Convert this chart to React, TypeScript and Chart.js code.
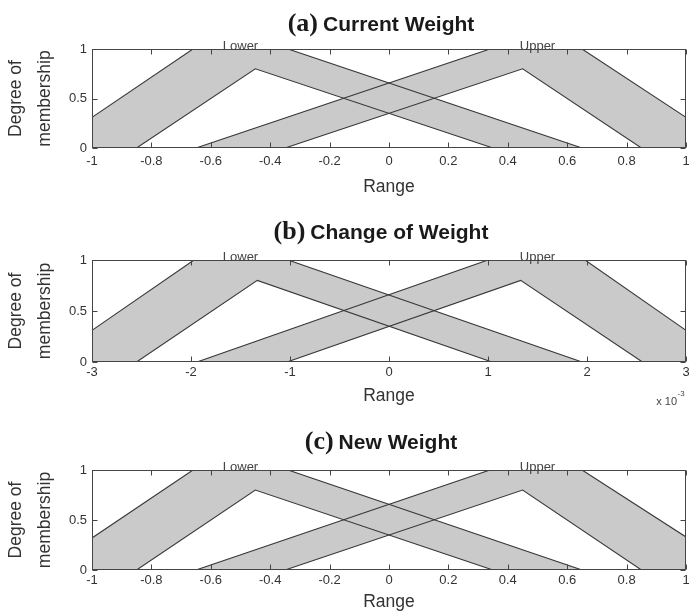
import React, { useEffect, useRef } from 'react';
import { Chart, registerables } from 'chart.js';
Chart.register(...registerables);

Chart.defaults.font.family = '"Liberation Sans", Arial, sans-serif';

const FILL = 'rgb(202,202,202)';
const LINE = '#383838';
const TEXT = '#333333';
const FRAME = '#454545';

// Shared y axis
const yTickValues = [0, 0.5, 1];
const yTickLabels = ['0', '0.5', '1'];
const yTitle = ['Degree of', 'membership'];
const xTitle = 'Range';
const mfNames = ['Lower', 'Upper'];

// (a) Current Weight
const aTag = '(a)';
const aName = 'Current Weight';
const aXTickValues = [-1, -0.8, -0.6, -0.4, -0.2, 0, 0.2, 0.4, 0.6, 0.8, 1];
const aXTickLabels = ['-1', '-0.8', '-0.6', '-0.4', '-0.2', '0', '0.2', '0.4', '0.6', '0.8', '1'];
const aLowerUmfX = [-1, -0.66, -0.34, 0.65, 1];
const aLowerUmfY = [0.31, 1, 1, 0, 0];
const aLowerLmfX = [-1, -0.85, -0.45, 0.35, 1];
const aLowerLmfY = [0, 0, 0.8, 0, 0];
const aUpperUmfX = [-1, -0.65, 0.34, 0.65, 1];
const aUpperUmfY = [0, 0, 1, 1, 0.31];
const aUpperLmfX = [-1, -0.35, 0.45, 0.85, 1];
const aUpperLmfY = [0, 0, 0.8, 0, 0];
const aLabelX = [-0.5, 0.5];

// (b) Change of Weight (x 10^-3)
const bTag = '(b)';
const bName = 'Change of Weight';
const bXTickValues = [-3, -2, -1, 0, 1, 2, 3];
const bXTickLabels = ['-3', '-2', '-1', '0', '1', '2', '3'];
const bLowerUmfX = [-3, -1.97, -1.02, 1.95, 3];
const bLowerUmfY = [0.31, 1, 1, 0, 0];
const bLowerLmfX = [-3, -2.55, -1.33, 1.04, 3];
const bLowerLmfY = [0, 0, 0.8, 0, 0];
const bUpperUmfX = [-3, -1.94, 1.0, 1.98, 3];
const bUpperUmfY = [0, 0, 1, 1, 0.31];
const bUpperLmfX = [-3, -1.03, 1.33, 2.56, 3];
const bUpperLmfY = [0, 0, 0.8, 0, 0];
const bLabelX = [-1.5, 1.5];
const bExponent = ['x 10', '-3'];

// (c) New Weight
const cTag = '(c)';
const cName = 'New Weight';
const cXTickValues = [-1, -0.8, -0.6, -0.4, -0.2, 0, 0.2, 0.4, 0.6, 0.8, 1];
const cXTickLabels = ['-1', '-0.8', '-0.6', '-0.4', '-0.2', '0', '0.2', '0.4', '0.6', '0.8', '1'];
const cLowerUmfX = [-1, -0.66, -0.34, 0.65, 1];
const cLowerUmfY = [0.32, 1, 1, 0, 0];
const cLowerLmfX = [-1, -0.85, -0.45, 0.35, 1];
const cLowerLmfY = [0, 0, 0.8, 0, 0];
const cUpperUmfX = [-1, -0.65, 0.34, 0.65, 1];
const cUpperUmfY = [0, 0, 1, 1, 0.33];
const cUpperLmfX = [-1, -0.35, 0.45, 0.85, 1];
const cUpperLmfY = [0, 0, 0.8, 0, 0];
const cLabelX = [-0.5, 0.5];

type Panel = {
  key: string;
  tag: string;
  name: string;
  xTicks: number[];
  xLabels: string[];
  series: [number[], number[]][];
  labelX: number[];
  exponent?: string[];
  // layout
  top: number;
  plotTop: number;
  plotBottom: number;
  tickPad: number;
  rangeOffset: number;
  titleBase: number;
};

const AXIS_H = 52;

const panels: Panel[] = [
  {
    key: 'a', tag: aTag, name: aName, xTicks: aXTickValues, xLabels: aXTickLabels,
    series: [[aLowerUmfX, aLowerUmfY], [aLowerLmfX, aLowerLmfY], [aUpperUmfX, aUpperUmfY], [aUpperLmfX, aUpperLmfY]],
    labelX: aLabelX,
    top: 0, plotTop: 49, plotBottom: 148, tickPad: 6, rangeOffset: 39.5, titleBase: 31,
  },
  {
    key: 'b', tag: bTag, name: bName, xTicks: bXTickValues, xLabels: bXTickLabels,
    series: [[bLowerUmfX, bLowerUmfY], [bLowerLmfX, bLowerLmfY], [bUpperUmfX, bUpperUmfY], [bUpperLmfX, bUpperLmfY]],
    labelX: bLabelX, exponent: bExponent,
    top: 200, plotTop: 60, plotBottom: 162, tickPad: 3, rangeOffset: 34, titleBase: 39,
  },
  {
    key: 'c', tag: cTag, name: cName, xTicks: cXTickValues, xLabels: cXTickLabels,
    series: [[cLowerUmfX, cLowerUmfY], [cLowerLmfX, cLowerLmfY], [cUpperUmfX, cUpperUmfY], [cUpperLmfX, cUpperLmfY]],
    labelX: cLabelX,
    top: 410, plotTop: 60, plotBottom: 160, tickPad: 3, rangeOffset: 32, titleBase: 39,
  },
];

function PanelChart({ p }: { p: Panel }) {
  const ref = useRef<HTMLCanvasElement>(null);
  const canvasH = p.plotBottom + AXIS_H;

  useEffect(() => {
    const canvas = ref.current!;
    const decor = {
      id: 'decor_' + p.key,
      afterDraw(chart: any) {
        const ctx = chart.ctx as CanvasRenderingContext2D;
        const ca = chart.chartArea;
        const xs = chart.scales.x;
        const ys = chart.scales.y;
        const L = Math.round(ca.left) + 0.5;
        const R = Math.round(ca.right) - 0.5;
        const T = Math.round(ca.top) + 0.5;
        const B = Math.round(ca.bottom) - 0.5;
        ctx.save();
        // frame
        ctx.strokeStyle = FRAME;
        ctx.lineWidth = 1;
        ctx.strokeRect(L, T, R - L, B - T);
        // inward ticks
        ctx.beginPath();
        p.xTicks.forEach((v) => {
          const px = Math.round(xs.getPixelForValue(v)) + 0.5;
          ctx.moveTo(px, B); ctx.lineTo(px, B - 5);
          ctx.moveTo(px, T); ctx.lineTo(px, T + 5);
        });
        yTickValues.forEach((v) => {
          const py = Math.round(ys.getPixelForValue(v)) + 0.5;
          ctx.moveTo(L, py); ctx.lineTo(L + 5, py);
          ctx.moveTo(R, py); ctx.lineTo(R - 5, py);
        });
        ctx.stroke();
        // MF names
        ctx.fillStyle = '#444444';
        ctx.font = '13px "Liberation Sans", Arial, sans-serif';
        ctx.textAlign = 'center';
        ctx.textBaseline = 'alphabetic';
        p.labelX.forEach((v, i) => {
          ctx.fillText(mfNames[i], xs.getPixelForValue(v), ca.top + 1);
        });
        // title
        const cx = (ca.left + ca.right) / 2 - 8;
        ctx.textAlign = 'left';
        ctx.fillStyle = '#1a1a1a';
        ctx.font = 'bold 26px "Liberation Serif", "Times New Roman", serif';
        const w1 = ctx.measureText(p.tag).width;
        ctx.font = 'bold 21px "Liberation Sans", Arial, sans-serif';
        const w2 = ctx.measureText(p.name).width;
        const gap = 5;
        const x0 = cx - (w1 + gap + w2) / 2;
        ctx.font = 'bold 26px "Liberation Serif", "Times New Roman", serif';
        ctx.fillText(p.tag, x0, p.titleBase);
        ctx.font = 'bold 21px "Liberation Sans", Arial, sans-serif';
        ctx.fillText(p.name, x0 + w1 + gap, p.titleBase);
        // exponent
        if (p.exponent) {
          ctx.fillStyle = '#444444';
          ctx.font = '11px "Liberation Sans", Arial, sans-serif';
          ctx.textAlign = 'right';
          ctx.fillText(p.exponent[0], 677, ca.bottom + 43);
          ctx.font = '8px "Liberation Sans", Arial, sans-serif';
          ctx.textAlign = 'left';
          ctx.fillText(p.exponent[1], 677.5, ca.bottom + 34);
        }
        ctx.restore();
      },
    };

    const mk = (s: [number[], number[]], fill: boolean) => ({
      data: s[0].map((x, i) => ({ x, y: s[1][i] })),
      borderColor: LINE,
      borderWidth: 1.1,
      pointRadius: 0,
      pointHoverRadius: 0,
      tension: 0,
      fill: fill ? '+1' : false,
      backgroundColor: FILL,
    });

    const axisTitleLh = 17.5 * 1.2;

    const chart = new Chart(canvas, {
      type: 'line',
      data: {
        datasets: [mk(p.series[0], true), mk(p.series[1], false), mk(p.series[2], true), mk(p.series[3], false)],
      },
      options: {
        responsive: false,
        animation: false,
        devicePixelRatio: 1,
        events: [],
        layout: { padding: { left: 0, right: 3, top: p.plotTop, bottom: 0 } },
        plugins: {
          legend: { display: false },
          tooltip: { enabled: false },
          filler: { drawTime: 'beforeDatasetsDraw' },
        } as any,
        scales: {
          x: {
            type: 'linear',
            min: p.xTicks[0],
            max: p.xTicks[p.xTicks.length - 1],
            afterBuildTicks: (s: any) => { s.ticks = p.xTicks.map((v) => ({ value: v })); },
            afterFit: (s: any) => { s.height = AXIS_H; s.paddingLeft = 0; s.paddingRight = 0; },
            grid: { display: false, drawTicks: false },
            border: { display: false },
            ticks: {
              callback: (_v: any, i: number) => p.xLabels[i],
              font: { size: 13 },
              color: TEXT,
              padding: p.tickPad,
              maxRotation: 0,
              autoSkip: false,
            },
            title: {
              display: true,
              text: xTitle,
              font: { size: 17.5 },
              color: TEXT,
              padding: { top: 0, bottom: AXIS_H - p.rangeOffset - axisTitleLh / 2 },
            },
          },
          y: {
            type: 'linear',
            min: 0,
            max: 1,
            afterBuildTicks: (s: any) => { s.ticks = yTickValues.map((v) => ({ value: v })); },
            afterFit: (s: any) => { s.width = 92; s.paddingTop = 0; s.paddingBottom = 0; },
            grid: { display: false, drawTicks: false },
            border: { display: false },
            ticks: {
              callback: (_v: any, i: number) => yTickLabels[i],
              font: { size: 13 },
              color: TEXT,
              padding: 5,
            },
            title: {
              display: true,
              text: yTitle,
              font: { size: 17.5, lineHeight: '29px' },
              color: TEXT,
              padding: { top: 2, bottom: 0 },
            },
          },
        },
      } as any,
      plugins: [decor],
    });
    return () => chart.destroy();
  }, []);

  return (
    <canvas
      ref={ref}
      width={689}
      height={canvasH}
      style={{ position: 'absolute', left: 0, top: p.top, width: 689, height: canvasH }}
    />
  );
}

export default function App() {
  return (
    <div style={{ position: 'fixed', left: 0, top: 0, width: 689, height: 611, background: '#ffffff', overflow: 'hidden' }}>
      {panels.map((p) => (
        <PanelChart key={p.key} p={p} />
      ))}
    </div>
  );
}
